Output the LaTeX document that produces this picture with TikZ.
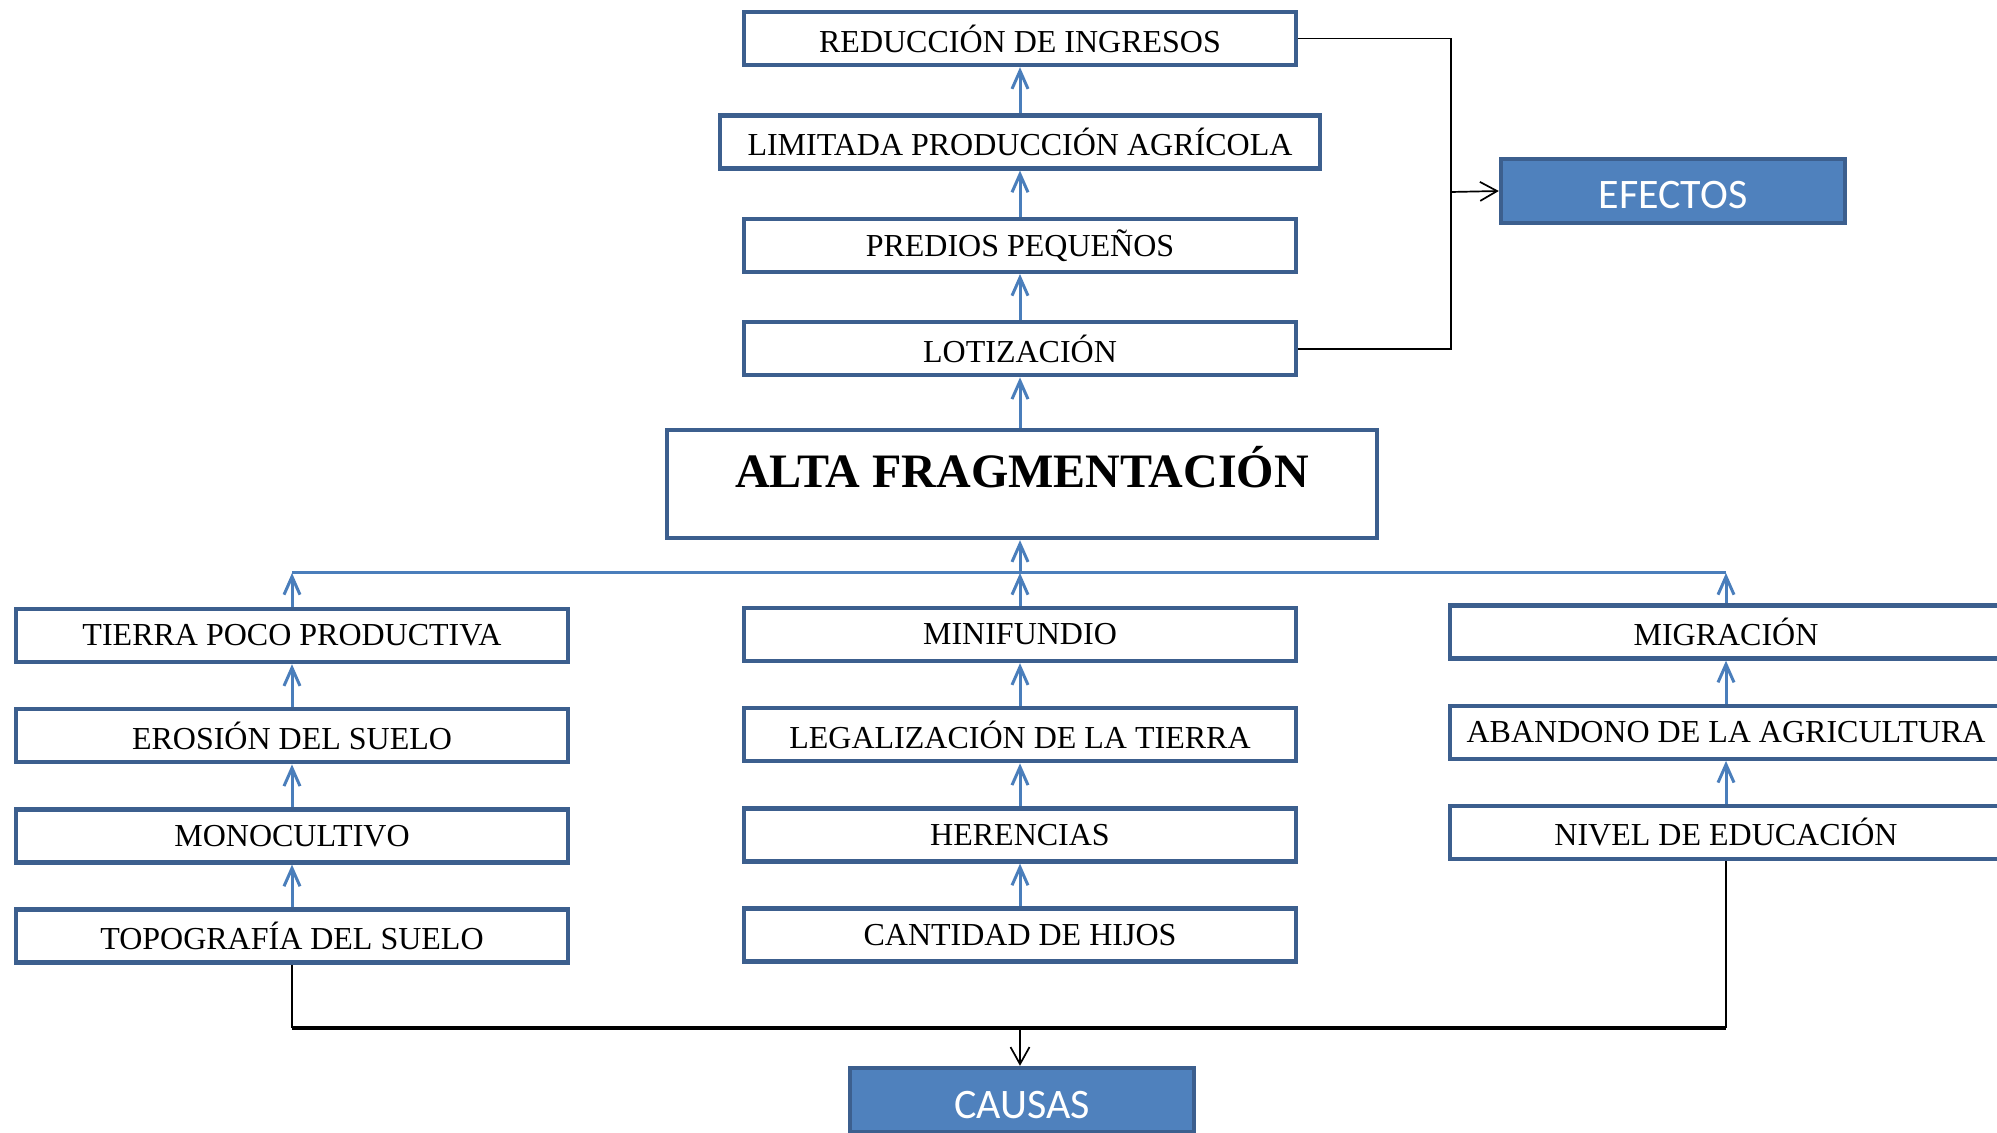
\documentclass[tikz,border=0pt]{standalone}
\usepackage{fontspec}
\setmainfont{Liberation Serif}
\newfontfamily\tagfont{Carlito}
\usetikzlibrary{arrows.meta, positioning}
\definecolor{frameblue}{HTML}{3C5F8E}
\definecolor{lineblue}{HTML}{4A7EBB}
\definecolor{fillblue}{HTML}{4F81BD}
\tikzset{
  box/.style={draw=frameblue, line width=2.2pt, fill=white, align=center, minimum height=26.5pt, minimum width=276pt, inner sep=0pt, font=\fontsize{16}{19}\selectfont},
  core/.style={box, minimum width=355pt, minimum height=54pt, text height=18pt, text depth=14pt, font=\bfseries\fontsize{24}{28}\selectfont},
  tag/.style={draw=frameblue, line width=2.2pt, fill=fillblue, text=white, minimum width=172pt, minimum height=32pt, inner sep=0pt, text height=18pt, text depth=0pt, font=\tagfont\fontsize{21}{25}\selectfont},
  up/.style={-{Straight Barb[length=9pt, width=8pt]}, line width=1.5pt, lineblue},
  link/.style={line width=0.85pt, black},
  linkarrow/.style={-{Straight Barb[length=8.5pt, width=9.5pt]}, line width=0.85pt, black},
  every node/.style={outer sep=1.1pt}
}

\begin{document}
\begin{tikzpicture}[x=0.5pt, y=-0.5pt, node distance=21.4pt]
    \useasboundingbox (0,0) rectangle (1997,1133);

    % effects
    \node[box] (reduccion) at (1020,38.5) {REDUCCIÓN DE INGRESOS};
    \node[box, below=23pt of reduccion, minimum width=300pt] (limitada) {LIMITADA PRODUCCIÓN AGRÍCOLA};
    \node[box, below=23pt of limitada] (predios) {PREDIOS PEQUEÑOS};
    \node[box, below=23pt of predios] (lotizacion) {LOTIZACIÓN};
    \node[core] (alta) at (1022,484) {ALTA FRAGMENTACIÓN};

    % causes
    \node[box] (tierra) at (292,635.5) {TIERRA POCO PRODUCTIVA};
    \node[box, below=of tierra] (erosion) {EROSIÓN DEL SUELO};
    \node[box, below=of erosion] (monocultivo) {MONOCULTIVO};
    \node[box, below=of monocultivo] (topografia) {TOPOGRAFÍA DEL SUELO};

    \node[box] (minifundio) at (1020,634.5) {MINIFUNDIO};
    \node[box, below=of minifundio] (legalizacion) {LEGALIZACIÓN DE LA TIERRA};
    \node[box, below=of legalizacion] (herencias) {HERENCIAS};
    \node[box, below=of herencias] (hijos) {CANTIDAD DE HIJOS};

    \node[box] (migracion) at (1726,632) {MIGRACIÓN};
    \node[box, below=of migracion] (abandono) {ABANDONO DE LA AGRICULTURA};
    \node[box, below=of abandono] (educacion) {NIVEL DE EDUCACIÓN};

    \node[tag] (efectos) at (1673,191) {EFECTOS};
    \node[tag] (causas) at (1022,1100) {CAUSAS};

    \coordinate (hub) at (1020,573);
    \coordinate (fork) at (1451,192);
    \coordinate (base) at (1020,1028);

    % upward chains
    \draw[up] (alta.north -| lotizacion.south) -- (lotizacion.south);
    \draw[up] (lotizacion.north) -- (predios.south);
    \draw[up] (predios.north) -- (limitada.south);
    \draw[up] (limitada.north) -- (reduccion.south);

    \draw[line width=1.5pt, lineblue] (tierra.north |- hub) -- (migracion.north |- hub);
    \draw[up] (hub) -- (hub |- alta.south);
    \draw[up] (minifundio.north) -- (hub);
    \draw[up] (tierra.north) -- (tierra.north |- hub);
    \draw[up] (migracion.north) -- (migracion.north |- hub);

    \draw[up] (erosion.north) -- (tierra.south);
    \draw[up] (monocultivo.north) -- (erosion.south);
    \draw[up] (topografia.north) -- (monocultivo.south);
    \draw[up] (legalizacion.north) -- (minifundio.south);
    \draw[up] (herencias.north) -- (legalizacion.south);
    \draw[up] (hijos.north) -- (herencias.south);
    \draw[up] (abandono.north) -- (migracion.south);
    \draw[up] (educacion.north) -- (abandono.south);

    % brackets
    \draw[link] (reduccion.east) -| (fork) |- (lotizacion.east);
    \draw[linkarrow] (fork) -- (efectos.west);
    \draw[link] (topografia.south) -- (topografia.south |- base);
    \draw[link] (educacion.south) -- (educacion.south |- base);
    \draw[link, line width=1.6pt] (topografia.south |- base) -- (educacion.south |- base);
    \draw[linkarrow] (base) -- (base |- causas.north);
\end{tikzpicture}
\end{document}
